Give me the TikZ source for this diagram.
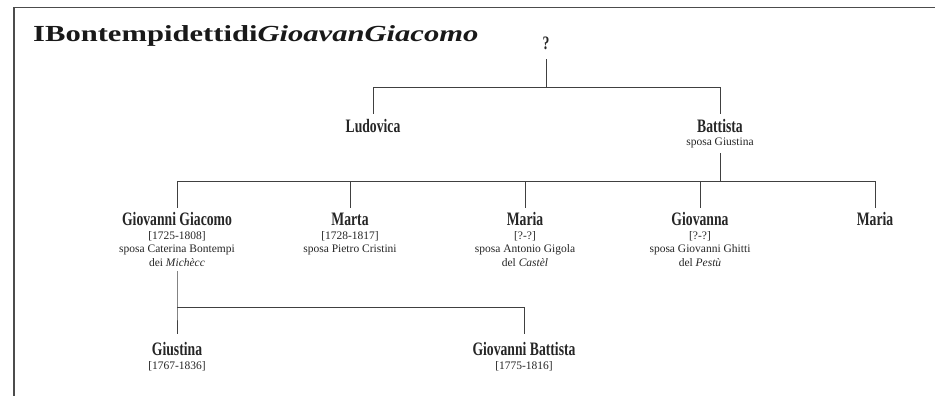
\documentclass[tikz,border=0pt]{standalone}
\usepackage{fontspec}
\setmainfont{Liberation Serif}
\newfontfamily\namefam[FakeStretch=0.72]{Liberation Serif}
\newfontfamily\titlefam[FakeStretch=1.33]{Liberation Serif}
\newcommand\who[1]{{\namefam\bfseries\fontsize{19}{13.5}\selectfont\rule{0pt}{13pt}#1}}
\tikzset{
  person/.style={align=center, anchor=north, inner sep=0pt, outer sep=5pt,
    text=black!85, font=\fontsize{11.5}{13.5}\selectfont},
  link/.style={draw=black!75, line width=0.8pt},
  frame/.style={draw=black!70, line width=1.6pt}
}
\begin{document}
\begin{tikzpicture}[x=1pt, y=-1pt]
      \useasboundingbox (0,0) rectangle (935,396);
      \draw[frame] (14,396) -- (14,7.5) -- (935,7.5);
      \node[anchor=base west, inner sep=0pt, text=black!90,
        font=\titlefam\bfseries\fontsize{23}{27}\selectfont] (title) at (33,42)
        {IBontempidettidi\textit{GioavanGiacomo}};

      \node[person, anchor=base, outer sep=9pt] (anc) at (546,50) {\who{?}};
      \node[person] (ludovica) at (373,114.3) {\who{Ludovica}};
      \node[person] (battista) at (720,114.3) {\who{Battista}\\sposa Giustina};

      \node[person] (giogiac) at (177,207.5)
        {\who{Giovanni Giacomo}\\{[1725-1808]}\\sposa Caterina Bontempi\\dei \textit{Michècc}};
      \node[person] (marta) at (350,207.5)
        {\who{Marta}\\{[1728-1817]}\\sposa Pietro Cristini};
      \node[person] (maria) at (525,207.5)
        {\who{Maria}\\{[?-?]}\\sposa Antonio Gigola\\del \textit{Castèl}};
      \node[person] (giovanna) at (700,207.5)
        {\who{Giovanna}\\{[?-?]}\\sposa Giovanni Ghitti\\del \textit{Pestù}};
      \node[person] (mariab) at (875,207.5) {\who{Maria}};

      \node[person, outer sep=8.5pt] (giustina) at (177,334.2)
        {\who{Giustina}\\{[1767-1836]}};
      \node[person, outer sep=8.5pt] (giobatt) at (524,334.2)
        {\who{Giovanni Battista}\\{[1775-1816]}};

      \coordinate (fork0) at (546,87);
      \coordinate (fork1) at (720,181);
      \coordinate (fork2) at (177,307);

      \draw[link] (anc) -- (fork0) -| (ludovica);
      \draw[link] (fork0) -| (battista);
      \draw[link] (battista) -- (fork1) -| (giogiac);
      \draw[link] (fork1) -| (marta);
      \draw[link] (fork1) -| (maria);
      \draw[link] (fork1) -| (giovanna);
      \draw[link] (fork1) -| (mariab);
      \draw[link] (giogiac) -- (fork2) -| (giustina);
      \draw[link] (fork2) -| (giobatt);
\end{tikzpicture}
\end{document}
